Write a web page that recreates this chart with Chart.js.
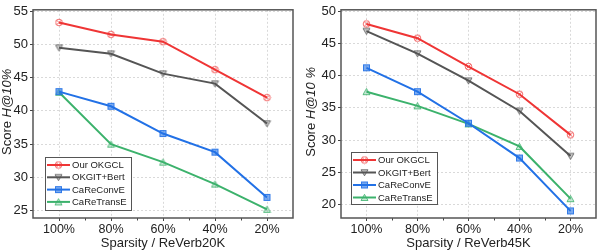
<!DOCTYPE html>
<html>
<head>
<meta charset="utf-8">
<script src="https://cdn.jsdelivr.net/npm/chart.js@4.4.0/dist/chart.umd.min.js"></script>
<style>
  body { margin: 0; background: #fff; }
  #wrap { position: relative; width: 602px; height: 252px; }
  canvas { position: absolute; top: 0; }
</style>
</head>
<body>
<div id="wrap">
  <canvas id="left" width="300" height="252" style="left:0"></canvas>
  <canvas id="right" width="302" height="252" style="left:300px"></canvas>
</div>
<script>
const sparsity = ['100%', '80%', '60%', '40%', '20%'];
const seriesNames = ['Our OKGCL', 'OKGIT+Bert', 'CaReConvE', 'CaReTransE'];

const okgcl20k = [53.3, 51.5, 50.4, 46.2, 42.0];
const okgit20k = [49.5, 48.6, 45.6, 44.1, 38.1];
const convE20k = [42.9, 40.7, 36.6, 33.8, 27.0];
const transE20k = [42.8, 35.0, 32.3, 29.0, 25.2];

const okgcl45k = [48.0, 45.8, 41.4, 37.1, 30.8];
const okgit45k = [46.9, 43.4, 39.2, 34.5, 27.5];
const convE45k = [41.2, 37.5, 32.6, 27.2, 19.0];
const transE45k = [37.5, 35.3, 32.5, 29.0, 20.9];

const yTicks20k = [25, 30, 35, 40, 45, 50, 55];
const yTicks45k = [20, 25, 30, 35, 40, 45, 50];

const colors = ['#ef3535', '#555555', '#2271e6', '#3cb26c'];
const FONT = '"Liberation Sans", Arial, sans-serif';

// small marker images, one per series
function makeMarker(kind, color) {
    const c = document.createElement('canvas');
    c.width = 9; c.height = 9;
    const g = c.getContext('2d');
    g.strokeStyle = color;
    g.fillStyle = color;
    g.lineWidth = 1;
    g.globalAlpha = 0.75;
    if (kind === 'circle') {
        g.beginPath(); g.arc(4.5, 4.5, 3.3, 0, Math.PI * 2); g.stroke();
        g.beginPath();
        g.moveTo(2.3, 2.3); g.lineTo(6.7, 6.7);
        g.moveTo(6.7, 2.3); g.lineTo(2.3, 6.7);
        g.stroke();
    } else if (kind === 'down') {
        g.beginPath(); g.moveTo(1, 1.8); g.lineTo(8, 1.8); g.lineTo(4.5, 7.8); g.closePath();
        g.globalAlpha = 0.3; g.fill(); g.globalAlpha = 0.8; g.stroke();
    } else if (kind === 'square') {
        g.globalAlpha = 0.6; g.fillRect(1.5, 1.5, 6, 6);
        g.globalAlpha = 0.9; g.strokeRect(1.5, 1.5, 6, 6);
    } else {
        g.beginPath(); g.moveTo(1, 7.5); g.lineTo(8, 7.5); g.lineTo(4.5, 1.3); g.closePath();
        g.globalAlpha = 0.3; g.fill(); g.globalAlpha = 0.8; g.stroke();
    }
    return c;
}
const markers = [
    makeMarker('circle', colors[0]),
    makeMarker('down', colors[1]),
    makeMarker('square', colors[2]),
    makeMarker('up', colors[3])
];

const framePlugin = {
    id: 'frame',
    afterDraw(chart, args, opts) {
        const ctx = chart.ctx;
        const a = chart.chartArea;
        const x = chart.scales.x;
        ctx.save();
        // minor ticks between categories
        ctx.strokeStyle = '#444';
        ctx.lineWidth = 1;
        for (let i = 0.5; i < sparsity.length - 1; i++) {
            const px = Math.round(x.getPixelForValue(i)) + 0.5;
            ctx.beginPath(); ctx.moveTo(px, a.bottom); ctx.lineTo(px, a.bottom + 2.5); ctx.stroke();
        }
        // plot frame
        ctx.strokeStyle = '#555';
        ctx.lineWidth = 1.5;
        ctx.strokeRect(a.left, a.top, a.right - a.left, a.bottom - a.top);

        // axis titles
        ctx.fillStyle = '#222';
        ctx.font = '13px ' + FONT;
        ctx.textAlign = 'center';
        ctx.textBaseline = 'middle';
        ctx.fillText(opts.xTitle, (a.left + a.right) / 2, 243);

        ctx.translate(opts.yTitleX, (a.top + a.bottom) / 2 - 2);
        ctx.rotate(-Math.PI / 2);
        let w = 0;
        opts.yTitle.forEach(p => { ctx.font = (p.it ? 'italic ' : '') + '13px ' + FONT; w += ctx.measureText(p.t).width; });
        let cx = -w / 2;
        ctx.textAlign = 'left';
        opts.yTitle.forEach(p => {
            ctx.font = (p.it ? 'italic ' : '') + '13px ' + FONT;
            ctx.fillText(p.t, cx, 0);
            cx += ctx.measureText(p.t).width;
        });
        ctx.restore();

        // legend
        const L = opts.legend;
        ctx.save();
        ctx.fillStyle = '#fff';
        ctx.fillRect(L.x, L.y, L.w, L.h);
        ctx.strokeStyle = '#555';
        ctx.lineWidth = 1;
        ctx.strokeRect(L.x + 0.5, L.y + 0.5, L.w, L.h);
        ctx.font = '9.5px ' + FONT;
        ctx.textBaseline = 'middle';
        ctx.textAlign = 'left';
        chart.data.datasets.forEach((ds, i) => {
            const yy = L.y + L.first + i * L.row;
            ctx.strokeStyle = ds.borderColor;
            ctx.lineWidth = 2;
            ctx.beginPath(); ctx.moveTo(L.x + 2, yy); ctx.lineTo(L.x + 25, yy); ctx.stroke();
            ctx.drawImage(markers[i], L.x + 13.5 - 4.5, yy - 4.5);
            ctx.fillStyle = '#222';
            ctx.fillText(ds.label, L.x + 27, yy + 0.5);
        });
        ctx.restore();
    }
};

function makeChart(id, series, yTicks, yMin, yMax, yWidth, xTitle, yTitle, yTitleX, legend) {
    const gridOpts = {
        color: '#d9d9d9',
        lineWidth: 1,
        drawTicks: true,
        tickLength: 3,
        tickColor: '#444',
        tickWidth: 1,
        tickBorderDash: []
    };
    return new Chart(document.getElementById(id), {
        type: 'line',
        data: {
            labels: sparsity,
            datasets: series.map((vals, i) => ({
                label: seriesNames[i],
                data: vals,
                borderColor: colors[i],
                backgroundColor: colors[i],
                borderWidth: 2,
                pointStyle: markers[i],
                pointRadius: 4,
                tension: 0
            }))
        },
        options: {
            responsive: false,
            animation: false,
            layout: { padding: { top: 6, right: id === 'left' ? 7 : 1, left: 0, bottom: 0 } },
            plugins: {
                legend: { display: false },
                tooltip: { enabled: false },
                frame: { xTitle: xTitle, yTitle: yTitle, yTitleX: yTitleX, legend: legend }
            },
            scales: {
                x: {
                    type: 'category',
                    offset: true,
                    grid: gridOpts,
                    border: { display: false, dash: [2, 2] },
                    ticks: { font: { family: FONT, size: 12.5 }, color: '#222', padding: 1, maxRotation: 0 },
                    afterFit: s => { s.height = 34; }
                },
                y: {
                    min: yMin,
                    max: yMax,
                    grid: gridOpts,
                    border: { display: false, dash: [2, 2] },
                    afterBuildTicks: s => { s.ticks = yTicks.map(v => ({ value: v })); },
                    ticks: { font: { family: FONT, size: 13 }, color: '#222', padding: 2 },
                    afterFit: s => { s.width = yWidth; }
                }
            }
        },
        plugins: [framePlugin]
    });
}

makeChart('left', [okgcl20k, okgit20k, convE20k, transE20k], yTicks20k, 23.9, 55.2, 33,
    'Sparsity / ReVerb20K', [{ t: 'Score ' }, { t: 'H@10%', it: true }], 7,
    { x: 45, y: 157, w: 86, h: 53, first: 8, row: 12.3 });

makeChart('right', [okgcl45k, okgit45k, convE45k, transE45k], yTicks45k, 17.9, 50.2, 41,
    'Sparsity / ReVerb45K', [{ t: 'Score ' }, { t: 'H@10 %', it: true }], 11,
    { x: 51, y: 152, w: 86, h: 52, first: 8, row: 12.5 });
</script>
</body>
</html>
